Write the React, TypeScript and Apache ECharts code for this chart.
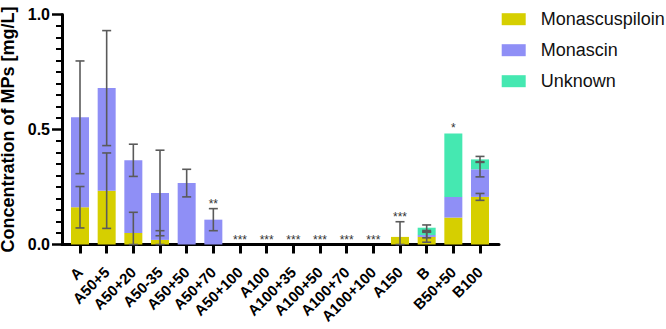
import React, { useEffect, useRef } from "react";
import * as echarts from "echarts";

// Sample groups along the x axis
const categories = [
  "A", "A50+5", "A50+20", "A50-35", "A50+50", "A50+70", "A50+100", "A100",
  "A100+35", "A100+50", "A100+70", "A100+100", "A150", "B", "B50+50", "B100",
];

// Mean concentrations (mg/L) per compound
const monascuspiloin = [0.162, 0.234, 0.05, 0.02, 0, 0, 0, 0, 0, 0, 0, 0, 0.033, 0.033, 0.117, 0.207];
const monascin = [0.391, 0.446, 0.316, 0.204, 0.267, 0.108, 0, 0, 0, 0, 0, 0, 0, 0.008, 0.09, 0.12];
const unknown = [0, 0, 0, 0, 0, 0, 0, 0, 0, 0, 0, 0, 0, 0.032, 0.276, 0.043];

// Standard deviations (mg/L) per compound
const monascuspiloinSd = [0.09, 0.164, 0.09, 0.04, 0, 0, 0, 0, 0, 0, 0, 0, 0.066, 0.023, 0, 0.015];
const monascinSd = [0.245, 0.25, 0.07, 0.186, 0.06, 0.048, 0, 0, 0, 0, 0, 0, 0, 0.012, 0, 0.033];
const unknownSd = [0, 0, 0, 0, 0, 0, 0, 0, 0, 0, 0, 0, 0, 0.012, 0, 0.013];

// Significance marks above each group
const significance = ["", "", "", "", "", "**", "***", "***", "***", "***", "***", "***", "***", "", "*", ""];

const yTickLabels = ["0.0", "0.5", "1.0"];

const COLORS = ["#D6CF00", "#8F8FF6", "#45E8B1"];
const FONT = "'Liberation Sans', Arial, Helvetica, sans-serif";

export default function App() {
  const ref = useRef<HTMLDivElement>(null);

  useEffect(() => {
    if (!ref.current) return;
    const chart = echarts.init(ref.current, null, { renderer: "svg" });

    const layers = [
      { mean: monascuspiloin, sd: monascuspiloinSd },
      { mean: monascin, sd: monascinSd },
      { mean: unknown, sd: unknownSd },
    ];

    // Error bars sit on each stacked segment's cumulative top; marks go above the highest whisker
    const renderErrors = (params: any, api: any) => {
      const i = api.value(0);
      const children: any[] = [];
      let base = 0;
      let top = 0;
      const half = 4.5;
      layers.forEach((layer) => {
        const m = layer.mean[i];
        const s = layer.sd[i];
        const cum = base + m;
        if (m > 0) top = Math.max(top, cum);
        if (m > 0 && s > 0) {
          const hi = cum + s;
          const lo = Math.max(0, cum - s);
          top = Math.max(top, hi);
          const pHi = api.coord([i, hi]);
          const pLo = api.coord([i, lo]);
          const st = { stroke: "#5a5a5a", lineWidth: 1.6 };
          children.push(
            { type: "line", shape: { x1: pHi[0], y1: pHi[1], x2: pLo[0], y2: pLo[1] }, style: st },
            { type: "line", shape: { x1: pHi[0] - half, y1: pHi[1], x2: pHi[0] + half, y2: pHi[1] }, style: st },
            { type: "line", shape: { x1: pLo[0] - half, y1: pLo[1], x2: pLo[0] + half, y2: pLo[1] }, style: st }
          );
        }
        base = cum;
      });
      const mark = significance[i];
      if (mark) {
        const p = api.coord([i, top]);
        children.push({
          type: "text",
          x: p[0],
          y: p[1] + 1,
          style: {
            text: mark,
            fill: "#333",
            font: `12px ${FONT}`,
            align: "center",
            verticalAlign: "bottom",
          },
        });
      }
      return { type: "group", children };
    };

    const gridTop = 14.5;
    const gridHeight = 230;

    chart.setOption({
      animation: false,
      backgroundColor: "#fff",
      textStyle: { fontFamily: FONT },
      legend: {
        data: ["Monascuspiloin", "Monascin", "Unknown"],
        orient: "vertical",
        left: 501.7,
        top: 9.7,
        padding: 0,
        icon: "rect",
        itemWidth: 24,
        itemHeight: 12,
        itemGap: 12,
        selectedMode: false,
        textStyle: {
          fontSize: 18,
          lineHeight: 19,
          color: "#111",
          fontFamily: FONT,
          padding: [0, 0, 0, 10],
        },
      },
      grid: [
        {
          left: 66.67, top: gridTop, width: 426.67, height: gridHeight,
          containLabel: false, outerBoundsMode: "none",
        },
        {
          left: 62, top: gridTop, width: 437, height: gridHeight,
          containLabel: false, outerBoundsMode: "none",
        },
      ],
      xAxis: [
        {
          type: "category",
          gridIndex: 0,
          data: categories,
          axisLine: { show: false },
          axisTick: {
            show: true,
            alignWithLabel: true,
            interval: 0,
            length: 9,
            lineStyle: { color: "#000", width: 3 },
          },
          axisLabel: {
            interval: 0,
            rotate: 45,
            margin: 25,
            color: "#000",
            fontWeight: "bold",
            fontSize: 15,
            fontFamily: FONT,
          },
        },
        {
          type: "value",
          gridIndex: 1,
          min: 0,
          max: 1,
          axisLine: { show: true, onZero: false, lineStyle: { color: "#000", width: 3 } },
          axisTick: { show: false },
          axisLabel: { show: false },
          splitLine: { show: false },
        },
      ],
      yAxis: [
        {
          type: "value",
          gridIndex: 0,
          min: 0,
          max: 1,
          show: false,
          splitLine: { show: false },
        },
        {
          type: "value",
          gridIndex: 1,
          min: 0,
          max: 1,
          interval: 0.5,
          name: "Concentration of MPs [mg/L]",
          nameLocation: "middle",
          nameGap: 30,
          nameTextStyle: { fontSize: 18, fontWeight: "bold", color: "#000", fontFamily: FONT },
          axisLine: { show: true, lineStyle: { color: "#000", width: 3 } },
          axisTick: { show: true, length: 10, lineStyle: { color: "#000", width: 2.5 } },
          minorTick: { show: true, splitNumber: 10, length: 6, lineStyle: { color: "#000", width: 2 } },
          splitLine: { show: false },
          axisLabel: {
            margin: 12,
            color: "#000",
            fontWeight: "bold",
            fontSize: 16,
            fontFamily: FONT,
            formatter: (v: number) => yTickLabels[Math.round(v * 2)] ?? "",
          },
        },
      ],
      series: [
        {
          name: "Monascuspiloin",
          type: "bar",
          stack: "total",
          barWidth: 18,
          xAxisIndex: 0,
          yAxisIndex: 0,
          itemStyle: { color: COLORS[0] },
          data: monascuspiloin,
        },
        {
          name: "Monascin",
          type: "bar",
          stack: "total",
          barWidth: 18,
          xAxisIndex: 0,
          yAxisIndex: 0,
          itemStyle: { color: COLORS[1] },
          data: monascin,
        },
        {
          name: "Unknown",
          type: "bar",
          stack: "total",
          barWidth: 18,
          xAxisIndex: 0,
          yAxisIndex: 0,
          itemStyle: { color: COLORS[2] },
          data: unknown,
        },
        {
          type: "custom",
          xAxisIndex: 0,
          yAxisIndex: 0,
          clip: false,
          z: 5,
          renderItem: renderErrors,
          data: categories.map((_, i) => [i]),
        },
      ],
    });

    return () => chart.dispose();
  }, []);

  return (
    <div
      ref={ref}
      style={{ position: "fixed", left: 0, top: 0, width: 666, height: 329, background: "#fff" }}
    />
  );
}
